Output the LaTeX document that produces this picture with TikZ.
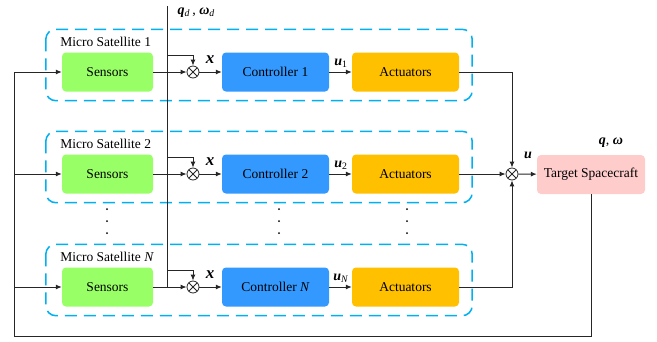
\documentclass[tikz,border=0pt]{standalone}
\usepackage{fontspec}
\setmainfont{Liberation Serif}
\usepackage{xcolor}
\usepackage{tikz}
\usetikzlibrary{arrows.meta, positioning}

\definecolor{sensgreen}{HTML}{99FF66}
\definecolor{ctrlblue}{HTML}{3399FF}
\definecolor{actgold}{HTML}{FFC000}
\definecolor{tgtpink}{HTML}{FFCCCC}
\definecolor{satcyan}{HTML}{00B0F0}
\definecolor{wire}{HTML}{262626}

\newcommand{\bvec}[1]{\textbf{\textit{#1}}}

\tikzset{
	blockbox/.style={rounded corners=4pt, minimum height=39pt, inner sep=0pt, font=\fontsize{13.5}{15}\selectfont},
	sensbox/.style={blockbox, fill=sensgreen, minimum width=91pt},
	ctrlbox/.style={blockbox, fill=ctrlblue, minimum width=107pt},
	actbox/.style={blockbox, fill=actgold, minimum width=107pt},
	tgtbox/.style={blockbox, fill=tgtpink, minimum width=108pt},
	sumnode/.style={circle, draw=wire, line width=0.8pt, minimum size=12pt, inner sep=0pt,
		path picture={\draw[wire, line width=0.8pt] (path picture bounding box.north west) -- (path picture bounding box.south east)
			(path picture bounding box.north east) -- (path picture bounding box.south west);}},
	satframe/.style={draw=satcyan, line width=1.5pt, dash pattern=on 12pt off 7pt, rounded corners=10pt},
	wireline/.style={wire, line width=1pt},
	wirearrow/.style={wireline, -{Latex[length=6pt,width=5pt]}},
	siglabel/.style={font=\fontsize{14}{16}\selectfont},
	xlabel/.style={font=\fontsize{17}{19}\selectfont},
	satlabel/.style={anchor=west, font=\fontsize{13.5}{15}\selectfont},
	vdot/.style={circle, fill=black, inner sep=0pt, minimum size=2pt},
}

\begin{document}
\begin{tikzpicture}[x=1pt, y=-1pt]
	\useasboundingbox (0,0) rectangle (657,341);
	% one row per micro satellite:
	\foreach \r/\y/\n in {1/72/1, 2/174/2, N/287/{\textit{N}}}{
		\node[sensbox] (sens\r) at (107.5,\y) {Sensors};
		\node[sumnode] (sum\r) at (193,\y) {};
		\node[ctrlbox] (ctrl\r) at (275.5,\y) {Controller \n};
		\node[actbox] (act\r) at (405.5,\y) {Actuators};
		\draw[satframe] ([shift={(-16pt,23pt)}]sens\r.north west) rectangle ([shift={(13pt,-9pt)}]act\r.south east);
		\node[satlabel] (lab\r) at ([shift={(-5pt,10.5pt)}]sens\r.north west) {Micro Satellite \n};
		\draw[wirearrow] (sens\r) -- (sum\r);
		\draw[wirearrow] (sum\r) -- (ctrl\r);
		\draw[wirearrow] (ctrl\r) -- (act\r);
		\node[xlabel] (x\r) at (210,\y-12) {\bvec{x}};
		\node[siglabel] (u\r) at (341,\y-9) {\bvec{u}\textsubscript{\n}};
		\coordinate (br\r) at (167,\y-17);
		\draw[wirearrow] (br\r) -| (sum\r.north);
	}
	% reference input
	\coordinate (qd) at (167,6);
	\draw[wireline] (qd) -- (qd |- sensN.east);
	\node[siglabel, anchor=west] (qdlab) at (174,13) {\bvec{q}\textsubscript{\textit{d}}\,, \bvec{ω}\textsubscript{\textit{d}}};
	% dots between rows
	\foreach \x in {107,279,407}
		\foreach \y in {209,221,233}
			\node[vdot] (dot-\x-\y) at (\x,\y) {};
	% output side
	\node[sumnode] (sumR) at (512,174) {};
	\node[tgtbox] (tgt) at (591,174.5) {Target Spacecraft};
	\draw[wirearrow] (act1.east) -| (sumR.north);
	\draw[wirearrow] (act2.east) -- (sumR.west);
	\draw[wirearrow] (actN.east) -| (sumR.south);
	\draw[wirearrow] (sumR) -- (tgt);
	\node[siglabel] (ulab) at (528,155) {\bvec{u}};
	\node[siglabel] (qlab) at (611,143) {\bvec{q}, \bvec{ω}};
	% feedback
	\coordinate (fbL) at (14,336);
	\draw[wirearrow] (tgt.south) |- (fbL) |- (sens1.west);
	\draw[wirearrow] (fbL |- sens2.west) -- (sens2.west);
	\draw[wirearrow] (fbL |- sensN.west) -- (sensN.west);
\end{tikzpicture}
\end{document}
